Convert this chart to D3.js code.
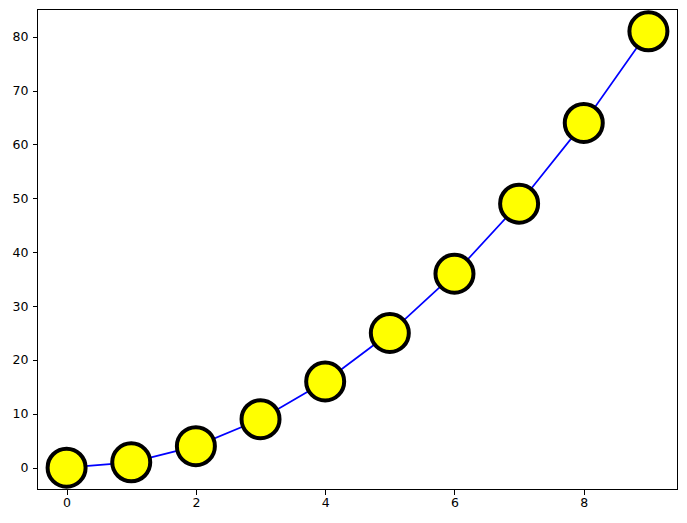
<!DOCTYPE html>
<html>
<meta charset="utf-8">
<style>
  body { margin: 0; background: #fff; }
  .axis path, .axis line { stroke: #000; stroke-width: 1; shape-rendering: crispEdges; }
</style>
<body>
<svg id="chart" width="687" height="523"></svg>
<script src="https://cdn.jsdelivr.net/npm/d3@7"></script>
<script>
// data
var xs = [0, 1, 2, 3, 4, 5, 6, 7, 8, 9];
var ys = [0, 1, 4, 9, 16, 25, 36, 49, 64, 81];
var xTicks = [0, 2, 4, 6, 8];
var yTicks = [0, 10, 20, 30, 40, 50, 60, 70, 80];

var svg = d3.select("#chart");
var mLeft = 37.5, mRight = 677.5, mTop = 9.5, mBottom = 489.5;

var x = d3.scaleLinear().domain([-0.45, 9.45]).range([mLeft, mRight]);
var y = d3.scaleLinear().domain([-4.05, 85.05]).range([mBottom, mTop]);

var pts = xs.map(function(d, i) { return [d, ys[i]]; });

// line
svg.append("path")
  .datum(pts)
  .attr("fill", "none")
  .attr("stroke", "#0000ff")
  .attr("stroke-width", 1.7)
  .attr("d", d3.line().x(function(d) { return x(d[0]); }).y(function(d) { return y(d[1]); }));

// markers
svg.selectAll("circle.pt")
  .data(pts)
  .enter()
  .append("circle")
  .attr("class", "pt")
  .attr("cx", function(d) { return x(d[0]); })
  .attr("cy", function(d) { return y(d[1]); })
  .attr("r", 19)
  .attr("fill", "#ffff00")
  .attr("stroke", "#000")
  .attr("stroke-width", 4);

// axes
var gx = svg.append("g")
  .attr("class", "axis")
  .attr("transform", "translate(0," + mBottom + ")")
  .call(d3.axisBottom(x).tickValues(xTicks).tickSize(5).tickPadding(4).tickSizeOuter(0));
gx.select(".domain").remove();

var gy = svg.append("g")
  .attr("class", "axis")
  .attr("transform", "translate(" + mLeft + ",0)")
  .call(d3.axisLeft(y).tickValues(yTicks).tickSize(5).tickPadding(4).tickSizeOuter(0));
gy.select(".domain").remove();

[gx, gy].forEach(function(g) {
  g.attr("font-family", "DejaVu Sans, sans-serif").attr("font-size", 12.5);
  g.selectAll("text").attr("fill", "#000");
});

// frame
svg.append("rect")
  .attr("x", mLeft).attr("y", mTop)
  .attr("width", mRight - mLeft).attr("height", mBottom - mTop)
  .attr("fill", "none").attr("stroke", "#000").attr("stroke-width", 1)
  .attr("shape-rendering", "crispEdges");
</script>
</body>
</html>
